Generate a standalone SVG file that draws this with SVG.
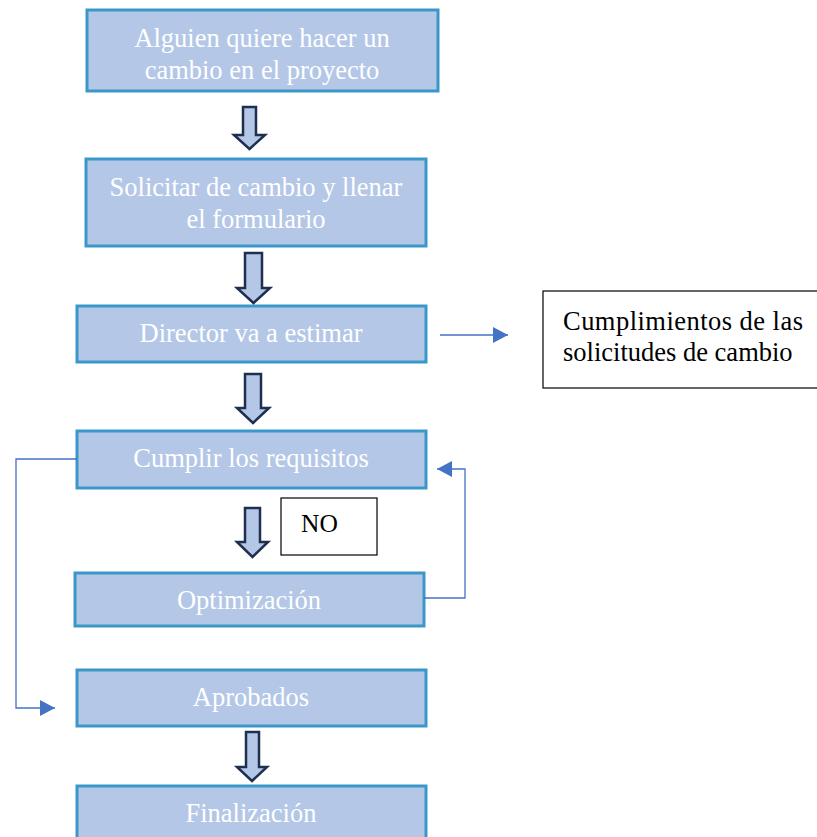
<svg xmlns="http://www.w3.org/2000/svg" width="817" height="837" viewBox="0 0 817 837">
<style>
.box{fill:#b4c7e7;stroke:#3a97c9;stroke-width:3}
.t{font-family:"Liberation Serif","Times New Roman",serif;font-size:26.5px;fill:#ffffff;text-anchor:middle}
.tb{font-family:"Liberation Serif","Times New Roman",serif;font-size:26.5px;fill:#000000}
.blk{fill:#b4c7e7;stroke:#1e2f4f;stroke-width:2.5;stroke-linejoin:miter}
.thin{fill:none;stroke:#4472c4;stroke-width:1.3}
</style>
<defs>
<marker id="ah" markerWidth="15" markerHeight="16" refX="15" refY="8" orient="auto" markerUnits="userSpaceOnUse">
<path d="M0,0 L15,8 L0,16 Z" fill="#4472c4"/>
</marker>
</defs>
<g id="n1"><rect class="box" x="87" y="10" width="351" height="81"/><text class="t" x="262" y="47">Alguien quiere hacer un</text><text class="t" x="262" y="79">cambio en el proyecto</text></g>
<g id="n2"><rect class="box" x="86" y="159" width="340" height="87"/><text class="t" x="256" y="196">Solicitar de cambio y llenar</text><text class="t" x="256" y="228">el formulario</text></g>
<g id="n3"><rect class="box" x="77" y="306" width="349" height="56"/><text class="t" x="251" y="342">Director va a estimar</text></g>
<g id="n4"><rect class="box" x="77" y="431" width="349" height="57"/><text class="t" x="251" y="467">Cumplir los requisitos</text></g>
<g id="n5"><rect class="box" x="75" y="573" width="349" height="53"/><text class="t" x="249" y="609">Optimización</text></g>
<g id="n6"><rect class="box" x="77" y="670" width="349" height="56"/><text class="t" x="251" y="706">Aprobados</text></g>
<g id="n7"><rect class="box" x="77" y="786" width="349" height="53"/><text class="t" x="251" y="822">Finalización</text></g>
<g id="n8"><rect x="543" y="291" width="280" height="97" fill="#ffffff" stroke="#000000" stroke-width="1.2"/><text class="tb" x="563" y="330" textLength="240" lengthAdjust="spacing">Cumplimientos de las</text><text class="tb" x="563" y="361">solicitudes de cambio</text></g>
<g id="n9"><rect x="281" y="498" width="96" height="57" fill="#ffffff" stroke="#000000" stroke-width="1.2"/><text class="tb" x="301" y="532" style="font-size:25.5px">NO</text></g>
<g id="connectors">
<path class="blk" d="M243,107 H256 V135 H265 L249.5,149 L234,135 H243 Z"/>
<path class="blk" d="M245,253 H262 V288 H270 L253.5,303 L237,288 H245 Z"/>
<path class="blk" d="M245,374 H261 V408 H269 L253,423 L237,408 H245 Z"/>
<path class="blk" d="M245,508 H260 V542 H268 L252.5,557 L237,542 H245 Z"/>
<path class="blk" d="M246,732 H259 V767 H267 L252,781 L237,767 H246 Z"/>
<path class="thin" d="M440,335 H508" marker-end="url(#ah)"/>
<path class="thin" d="M77,459 H16 V708 H55" marker-end="url(#ah)"/>
<path class="thin" d="M424,598 H465 V469 H437" marker-end="url(#ah)"/>
</g>
</svg>
